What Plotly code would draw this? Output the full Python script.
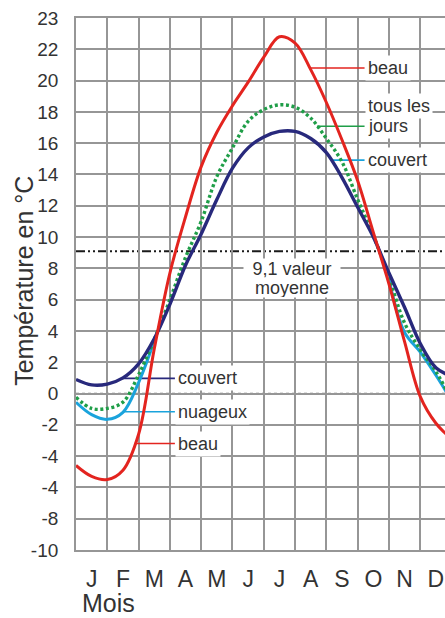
import numpy as np
import plotly.graph_objects as go

# ---------------- data ----------------
MONTH_LABELS = ["J", "F", "M", "A", "M", "J", "J", "A", "S", "O", "N", "D"]
MONTH_POS = [0, 0.5, 1, 1.5, 2, 2.5, 3, 3.5, 4, 4.5, 5, 5.5, 6, 6.5, 7, 7.5, 8, 8.5,
             9, 9.5, 10, 10.5, 11, 11.5, 12]

COUVERT = [0.9, 0.55, 0.6, 1.0, 1.9, 3.5, 5.7, 8.2, 10.2, 12.4, 14.4, 15.7, 16.4,
           16.75, 16.75, 16.3, 15.4, 13.8, 11.9, 10.0, 7.7, 5.5, 3.2, 1.65, 1.1]
TOUS_LES_JOURS = [-0.24, -0.95, -0.95, -0.55, 1.2, 3.45, 6.0, 8.7, 11.0, 13.86, 15.7,
                  17.4, 18.15, 18.45, 18.3, 17.6, 16.3, 14.8, 12.4, 10.1, 7.4, 4.5,
                  2.8, 1.4, -0.4]
NUAGEUX = [-0.56, -1.35, -1.65, -1.2, 0.7, 3.35, None, None, None, None, None, None,
           None, None, None, None, None, None, None, None, 7.3, 3.9, 2.65, 1.17, -0.45]
BEAU = [-4.6, -5.3, -5.5, -4.9, -2.6, 2.85, 7.7, 11.3, 14.5, 16.7, 18.4, 19.9, 21.5,
        22.8, 22.4, 20.7, 18.6, 16.2, 13.6, 10.3, 7.0, 3.3, -0.2, -1.9, -2.9]

MEAN_TEMP = 9.1

Y_TICK_VALUES = [-10, -8, -6, -4, -2, 0, 2, 4, 6, 8, 10, 12, 14, 16, 18, 20, 22, 24]
Y_TICK_TEXT = ["-10", "-8", "-4", "-4", "-2", "0", "2", "4", "6", "8", "10", "12",
               "14", "16", "18", "20", "22", "23"]

# ---------------- style ----------------
RED = "#e3241f"
NAVY = "#28297c"
CYAN = "#1aa3dc"
GREEN = "#1f9e48"
GRID = "#969696"
TEXT = "#333333"
FONT = "Liberation Sans"

fig = go.Figure()

fig.add_trace(go.Scatter(x=MONTH_POS, y=NUAGEUX, mode="lines", connectgaps=False,
                         line=dict(color=CYAN, width=3, shape="spline"), name="nuageux"))
fig.add_trace(go.Scatter(x=MONTH_POS, y=TOUS_LES_JOURS, mode="lines",
                         line=dict(color=GREEN, width=3.4, shape="spline", dash="3px,2.6px"),
                         name="tous les jours"))
fig.add_trace(go.Scatter(x=MONTH_POS, y=COUVERT, mode="lines",
                         line=dict(color=NAVY, width=3.4, shape="spline"), name="couvert"))
fig.add_trace(go.Scatter(x=MONTH_POS, y=BEAU, mode="lines",
                         line=dict(color=RED, width=3, shape="spline"), name="beau"))

shapes = []
shapes.append(dict(type="line", xref="paper", x0=0, x1=1, yref="y", y0=0, y1=0,
                   line=dict(color="#777777", width=1.6, dash="3px,3px"), layer="between"))
shapes.append(dict(type="line", xref="paper", x0=0, x1=1, yref="y", y0=MEAN_TEMP, y1=MEAN_TEMP,
                   line=dict(color="#1a1a1a", width=2, dash="9px,3px,2px,3px,2px,3px"),
                   layer="between"))

annotations = []
LABEL_FONT = dict(family=FONT, size=18, color=TEXT)


def leader(series, anchor_m, end_m, color, text):
    v = float(np.interp(anchor_m, MONTH_POS,
                        [np.nan if s is None else s for s in series]))
    shapes.append(dict(type="line", xref="x", yref="y", x0=anchor_m, x1=end_m, y0=v, y1=v,
                       line=dict(color=color, width=1.6), layer="between"))
    annotations.append(dict(x=end_m, y=v, xref="x", yref="y", text=text, showarrow=False,
                            xanchor="left", yanchor="middle", bgcolor="white",
                            borderpad=2, font=LABEL_FONT))
    return v


# left labels
leader(COUVERT, 1.46, 3.16, NAVY, "couvert")
leader(NUAGEUX, 1.51, 3.16, CYAN, "nuageux")
leader(BEAU, 1.87, 3.16, RED, "beau")
# right labels
leader(BEAU, 7.47, 9.22, RED, "beau")
vj = leader(TOUS_LES_JOURS, 7.7, 9.22, GREEN, "jours")
annotations.append(dict(x=9.22, y=vj, xref="x", yref="y", text="tous les", showarrow=False,
                        xanchor="left", yanchor="middle", yshift=20, bgcolor="white",
                        borderpad=2, font=LABEL_FONT))
leader(COUVERT, 8.15, 9.22, CYAN, "couvert")

# mean label
mean_txt = f"{MEAN_TEMP:.1f}".replace(".", ",") + " valeur"
annotations.append(dict(x=6.9, y=8, xref="x", yref="y", text=mean_txt, showarrow=False,
                        xanchor="center", yanchor="middle", bgcolor="white", width=96,
                        height=19, borderpad=0, font=LABEL_FONT))
annotations.append(dict(x=6.9, y=8, xref="x", yref="y", text="moyenne", showarrow=False,
                        xanchor="center", yanchor="middle", yshift=-19, bgcolor="white",
                        width=96, height=19, borderpad=0, font=LABEL_FONT))

# axis titles
annotations.append(dict(x=-0.141, y=0.506, xref="paper", yref="paper",
                        text="Température en °C", textangle=-90, showarrow=False,
                        xanchor="center", yanchor="middle",
                        font=dict(family=FONT, size=25, color=TEXT)))
annotations.append(dict(x=0.011, y=-0.100, xref="paper", yref="paper", text="Mois",
                        showarrow=False, xanchor="left", yanchor="middle",
                        font=dict(family=FONT, size=25, color=TEXT)))

fig.update_layout(
    template="none",
    width=445, height=618,
    margin=dict(l=76, r=0, t=18, b=68, autoexpand=False),
    paper_bgcolor="white", plot_bgcolor="white",
    showlegend=False,
    font=dict(family=FONT, color=TEXT),
    shapes=shapes, annotations=annotations,
    xaxis=dict(range=[0, 11.79], tickmode="array",
               tickvals=[i + 0.5 for i in range(12)], ticktext=MONTH_LABELS,
               showgrid=False, zeroline=False, ticks="", automargin=False,
               tickfont=dict(family=FONT, size=23, color=TEXT), ticklabelstandoff=7,
               showline=True, linecolor=GRID, linewidth=1.8, mirror=True,
               minor=dict(tickvals=list(range(13)), showgrid=True, gridcolor=GRID,
                          gridwidth=1.8, ticks="")),
    yaxis=dict(range=[-10, 24], tickmode="array", tickvals=Y_TICK_VALUES,
               ticktext=Y_TICK_TEXT, showgrid=True, gridcolor=GRID, gridwidth=1.8,
               zeroline=False, ticks="", automargin=False,
               tickfont=dict(family=FONT, size=19, color=TEXT), ticklabelstandoff=12,
               showline=True, linecolor=GRID, linewidth=1.8),
)

fig.write_html("out.html",
               config={"displayModeBar": False, "responsive": False},
               post_script="document.body.style.margin='0';"
                           "document.body.style.overflow='hidden';")
